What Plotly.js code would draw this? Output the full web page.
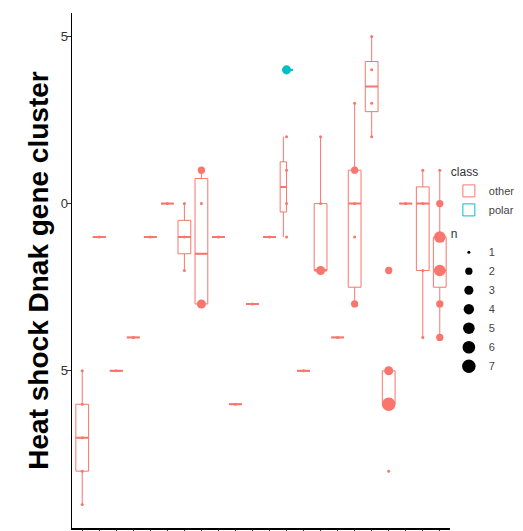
<!DOCTYPE html>
<html><head><meta charset="utf-8">
<script src="https://cdn.plot.ly/plotly-3.0.1.min.js"></script>
<style>html,body{margin:0;padding:0;background:#fff}#chart{width:523px;height:531px}</style>
</head><body><div id="chart"></div>
<script>
// categories along x (labels not visible in the reference)
const categories = ['1','2','3','4','5','6','7','8','9','10','11','12','13','14','15','16','17','18','19','20','21','22'];

// box statistics, class "other" (categories where it is alone)
const boxCat  = ['1','2','3','4','5','6','7','8','9','10','11','12','14','15','16','17','18','19','20','21','22'];
const boxLow  = [-9,-1,-5,-4,-1, 0,-2,  -3,-1,-6,-3,-1,-5,-2,-4,-3,  2,  -6, 0,-4,-4];
const boxQ1   = [-8,-1,-5,-4,-1, 0,-1.5,-3,-1,-6,-3,-1,-5,-2,-4,-2.5,2.75,-6, 0,-2,-2.5];
const boxMed  = [-7,-1,-5,-4,-1, 0,-1,-1.5,-1,-6,-3,-1,-5,-2,-4, 0,  3.5, -6, 0, 0,-2];
const boxQ3   = [-6,-1,-5,-4,-1, 0,-0.5,0.75,-1,-6,-3,-1,-5, 0,-4, 1,  4.25,-5, 0,0.5,-1];
const boxHigh = [-5,-1,-5,-4,-1, 0, 0,  1,  -1,-6,-3,-1,-5, 2,-4, 3,  5,   -5, 0, 1, 1];

// category shared by both classes (boxes dodged)
const sharedCat = ['13'];
const otherSharedLow = [-1], otherSharedQ1 = [-0.25], otherSharedMed = [0.5], otherSharedQ3 = [1.25], otherSharedHigh = [2];
const polarLow = [4], polarQ1 = [4], polarMed = [4], polarQ3 = [4], polarHigh = [4];

// counted observations (geom_count)
const ptCat = ['1','1','1','1','1','2','3','4','5','6','7','7','7','8','8','8','9','10','11','12',
               '13','13','13','13','14','15','15','15','16','17','17','17','17','17',
               '18','18','18','18','19','19','19','19','20','21','21','21','21',
               '22','22','22','22','22','22','13'];
const ptVal = [-9,-8,-7,-6,-5,-1,-5,-4,-1,0,-2,-1,0,-3,0,1,-1,-6,-3,-1,
               -1,0,1,2,-5,-2,0,2,-4,3,1,0,-1,-3,
               2,3,4,5,-8,-6,-5,-2,0,1,0,-2,-4,
               1,0,-1,-2,-3,-4,4];
const ptN   = [1,1,1,1,1,1,1,1,1,1,1,1,1,3,1,2,1,1,1,1,
               1,1,1,1,1,3,1,1,1,1,2,1,1,2,
               1,1,1,1,1,7,3,2,1,1,1,1,1,
               1,2,5,5,2,2,3];
const ptClass = ptCat.map((c,i)=> i===ptCat.length-1 ? 'polar' : 'other');

const nBreaks = [1,2,3,4,5,6,7];

const colOther = '#F8766D', colPolar = '#00BFC4';
const sizeOf = n => 3 + 10.5*Math.sqrt((n-1)/6);

const boxStyle = {type:'box', boxpoints:false, whiskerwidth:0, fillcolor:'white', hoverinfo:'skip'};

function boxTrace(opts, color, lw){
  return Object.assign({}, boxStyle, {marker:{color:color}, line:{color:color, width:lw}}, opts);
}

const traces = [];
// boxes
traces.push(boxTrace({name:'other', legend:'legend', x:boxCat,
  lowerfence:boxLow, q1:boxQ1, median:boxMed, q3:boxQ3, upperfence:boxHigh,
  alignmentgroup:'a', offsetgroup:'a'}, colOther, 1));
traces.push(boxTrace({name:'other', showlegend:false, x:sharedCat,
  lowerfence:otherSharedLow, q1:otherSharedQ1, median:otherSharedMed, q3:otherSharedQ3, upperfence:otherSharedHigh,
  alignmentgroup:'b', offsetgroup:'b1'}, colOther, 1));
traces.push(boxTrace({name:'polar', legend:'legend', x:sharedCat,
  lowerfence:polarLow, q1:polarQ1, median:polarMed, q3:polarQ3, upperfence:polarHigh,
  alignmentgroup:'b', offsetgroup:'b2'}, colPolar, 1));
// thicker median lines (ggplot fattens the median)
traces.push(boxTrace({name:'med', showlegend:false, x:boxCat,
  lowerfence:boxMed, q1:boxMed, median:boxMed, q3:boxMed, upperfence:boxMed,
  alignmentgroup:'a', offsetgroup:'a'}, colOther, 2));
traces.push(boxTrace({name:'med', showlegend:false, x:sharedCat,
  lowerfence:otherSharedMed, q1:otherSharedMed, median:otherSharedMed, q3:otherSharedMed, upperfence:otherSharedMed,
  alignmentgroup:'b', offsetgroup:'b1'}, colOther, 2));
traces.push(boxTrace({name:'med', showlegend:false, x:sharedCat,
  lowerfence:polarMed, q1:polarMed, median:polarMed, q3:polarMed, upperfence:polarMed,
  alignmentgroup:'b', offsetgroup:'b2'}, colPolar, 2));
// counts
traces.push({
  type:'scatter', mode:'markers', x:ptCat, y:ptVal, showlegend:false, hoverinfo:'skip',
  marker:{size:ptN.map(sizeOf), opacity:1, color:ptClass.map(c=>c==='polar'?colPolar:colOther), line:{width:0}}
});
nBreaks.forEach(n=>{
  traces.push({type:'scatter', mode:'markers', x:[null], y:[null], name:String(n), legend:'legend2',
    marker:{size:sizeOf(n), color:'black', opacity:1}, hoverinfo:'skip'});
});

const layout = {
  width:523, height:531,
  margin:{l:72, r:73, t:13, b:3, autoexpand:false},
  paper_bgcolor:'white', plot_bgcolor:'white',
  showlegend:true,
  boxmode:'group', boxgap:0.25, boxgroupgap:0,
  font:{family:'Liberation Sans, Arial, sans-serif', color:'#333'},
  xaxis:{type:'category', categoryorder:'array', categoryarray:categories,
    range:[-0.6, 21.6], showgrid:false, zeroline:false, showticklabels:false,
    ticks:'outside', ticklen:4, tickcolor:'#333', showline:true, linecolor:'black', linewidth:1.5, fixedrange:true},
  yaxis:{range:[-9.7, 5.7], tickvals:[-5,0,5], ticktext:['5','0','5'], showgrid:false, zeroline:false,
    ticks:'outside', ticklen:4, tickcolor:'#333', showline:true, linecolor:'black', linewidth:1.5,
    tickfont:{size:13, color:'#333'}, ticklabelstandoff:-4,
    title:{text:'Heat shock Dnak gene cluster', font:{size:28, weight:'bold', color:'black', family:'Liberation Sans, Arial, sans-serif'}, standoff:4},
    automargin:false},
  legend:{x:0.997, xanchor:'left', y:0.713, yanchor:'top', bgcolor:'rgba(0,0,0,0)',
    title:{text:'class', font:{size:12, color:'#333'}}, font:{size:11, color:'#444'}, tracegroupgap:0},
  legend2:{x:0.997, xanchor:'left', y:0.594, yanchor:'top', bgcolor:'rgba(0,0,0,0)', itemsizing:'trace',
    title:{text:'n', font:{size:12, color:'#333'}}, font:{size:11, color:'#444'}}
};

Plotly.newPlot('chart', traces, layout, {displayModeBar:false, staticPlot:true});
</script></body></html>
